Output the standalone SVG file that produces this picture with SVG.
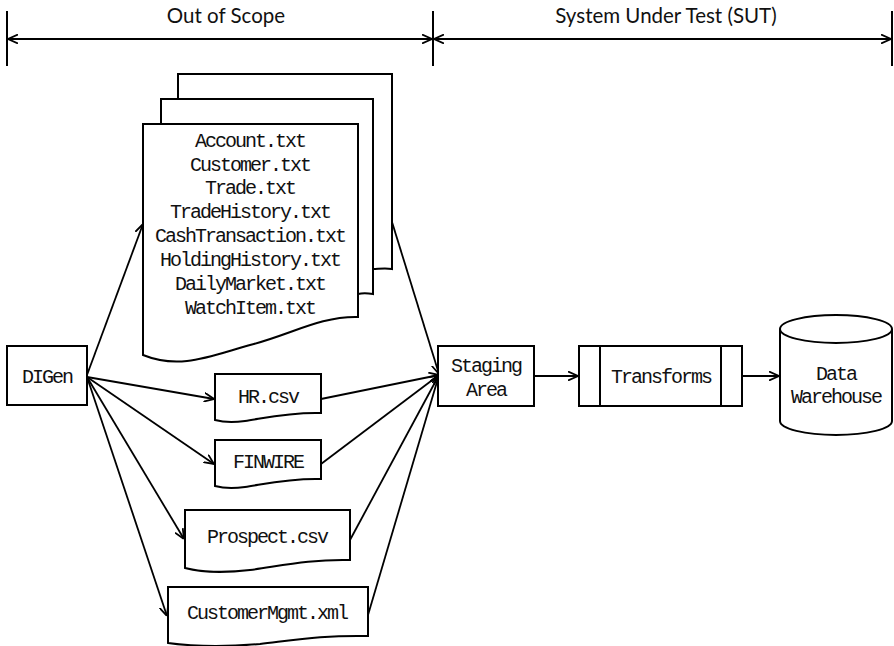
<svg xmlns="http://www.w3.org/2000/svg" width="894" height="646" viewBox="0 0 894 646">
<defs>
<marker id="ah" viewBox="0 0 10 10" refX="10" refY="5" markerWidth="10" markerHeight="10" markerUnits="userSpaceOnUse" orient="auto-start-reverse">
<path d="M0,0.5 L10,5 L0,9.5" fill="none" stroke="#000" stroke-width="1.8"/>
</marker>
<style>
.s{fill:#fff;stroke:#000;stroke-width:2}
.ln{fill:none;stroke:#000;stroke-width:2}
.c{fill:none;stroke:#000;stroke-width:1.8;marker-end:url(#ah)}
.t{font-family:"Liberation Mono",monospace;font-size:20px;letter-spacing:-2px;text-anchor:middle;fill:#111}
.h{font-family:Lato,"Liberation Sans",sans-serif;font-size:20.5px;text-anchor:middle;fill:#111}
</style>
</defs>
<g id="scope">
<line class="ln" x1="7" y1="11" x2="7" y2="66"/>
<line class="ln" x1="433" y1="11" x2="433" y2="66"/>
<line class="ln" x1="892" y1="11" x2="892" y2="66"/>
<line x1="8" y1="39" x2="432" y2="39" stroke="#000" stroke-width="2" marker-start="url(#ah)" marker-end="url(#ah)"/>
<line x1="434" y1="39" x2="891" y2="39" stroke="#000" stroke-width="2" marker-start="url(#ah)" marker-end="url(#ah)"/>
<text class="h" x="226" y="23">Out of Scope</text>
<text class="h" x="666" y="23">System Under Test (SUT)</text>
</g>
<g id="connectors">
<line class="c" x1="87" y1="375" x2="143" y2="224"/>
<line class="c" x1="87" y1="377" x2="214" y2="399"/>
<line class="c" x1="87" y1="377" x2="214" y2="464"/>
<line class="c" x1="87" y1="377" x2="184" y2="539"/>
<line class="c" x1="87" y1="377" x2="167" y2="616"/>
<line class="c" x1="392" y1="222" x2="439" y2="374"/>
<line class="c" x1="321" y1="399" x2="439" y2="375"/>
<line class="c" x1="321" y1="464" x2="439" y2="375"/>
<line class="c" x1="350" y1="540" x2="439" y2="375"/>
<line class="c" x1="368" y1="615" x2="439" y2="375"/>
<line class="c" x1="534" y1="376" x2="578" y2="376"/>
<line class="c" x1="742" y1="376" x2="779" y2="376"/>
</g>
<g id="files">
<path class="s" d="M178,74 H392 V269 C385,268 378,269 373,269 V99 H178 Z"/>
<path class="s" d="M161,99 H373 V294 C367,293 362,293 358,294 V124 H161 Z"/>
<path class="s" d="M143,124 H358 V317 C320,316 290,335 250,345 C210,356 180,370 143,355 Z"/>
<text class="t" x="250" y="147">Account.txt</text>
<text class="t" x="250" y="171">Customer.txt</text>
<text class="t" x="250" y="194">Trade.txt</text>
<text class="t" x="250" y="218">TradeHistory.txt</text>
<text class="t" x="250" y="242">CashTransaction.txt</text>
<text class="t" x="250" y="266">HoldingHistory.txt</text>
<text class="t" x="250" y="290">DailyMarket.txt</text>
<text class="t" x="250" y="314">WatchItem.txt</text>
</g>
<g id="digen">
<rect class="s" x="7" y="346" width="80" height="59"/>
<text class="t" x="47" y="383">DIGen</text>
</g>
<g id="hr">
<path class="s" d="M215,374 H321 V413 C290,412 265,418 245,421 C232,423 222,422 215,420 Z"/>
<text class="t" x="268" y="403">HR.csv</text>
</g>
<g id="finwire">
<path class="s" d="M215,440 H321 V479 C290,478 265,484 245,487 C232,489 222,488 215,486 Z"/>
<text class="t" x="268" y="468">FINWIRE</text>
</g>
<g id="prospect">
<path class="s" d="M185,510 H350 V560 C310,559 280,566 250,570 C225,573 200,572 185,568 Z"/>
<text class="t" x="267" y="543">Prospect.csv</text>
</g>
<g id="custmgmt">
<path class="s" d="M168,587 H368 V636 C325,635 295,640 260,644 C225,647 190,646 168,643 Z"/>
<text class="t" x="267" y="619">CustomerMgmt.xml</text>
</g>
<g id="staging">
<rect class="s" x="438" y="346" width="96" height="60"/>
<text class="t" x="486" y="372">Staging</text>
<text class="t" x="486" y="396">Area</text>
</g>
<g id="transforms">
<rect class="s" x="579" y="346" width="163" height="60"/>
<line class="ln" x1="600" y1="346" x2="600" y2="406"/>
<line class="ln" x1="721" y1="346" x2="721" y2="406"/>
<text class="t" x="661" y="383">Transforms</text>
</g>
<g id="warehouse">
<path class="s" d="M780,329 V421 A56,14 0 0 0 892,421 V329"/>
<ellipse class="s" cx="836" cy="329" rx="56" ry="14"/>
<text class="t" x="836" y="380">Data</text>
<text class="t" x="836" y="403">Warehouse</text>
</g>
</svg>
